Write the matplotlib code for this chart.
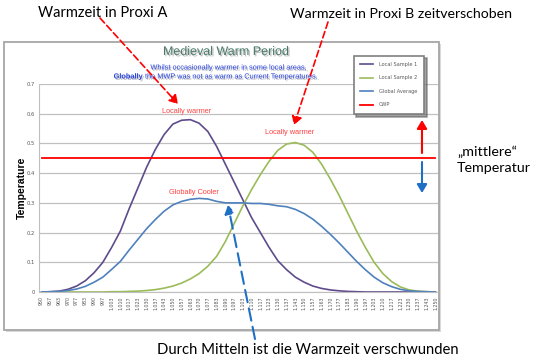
import numpy as np
import matplotlib.pyplot as plt
import matplotlib.patheffects as pe
from matplotlib.patches import Rectangle

# category labels (years) and series
years = [950, 957, 963, 970, 977, 983, 990, 997, 1003, 1010, 1017, 1023, 1030, 1037, 1043,
         1050, 1057, 1063, 1070, 1077, 1083, 1090, 1097, 1103, 1110, 1117, 1123, 1130, 1137, 1143,
         1150, 1157, 1163, 1170, 1177, 1183, 1190, 1197, 1203, 1210, 1217, 1223, 1230, 1237, 1243, 1250]
sample1 = [0.0, 0.001, 0.003, 0.009, 0.02, 0.038, 0.065, 0.10, 0.15, 0.205,
           0.28, 0.35, 0.42, 0.48, 0.53, 0.565, 0.578, 0.58, 0.568, 0.54,
           0.49, 0.43, 0.37, 0.31, 0.25, 0.20, 0.15, 0.105, 0.075, 0.05,
           0.033, 0.02, 0.012, 0.007, 0.004, 0.002, 0.001, 0, 0, 0,
           0, 0, 0, 0, 0, 0]
sample2 = [0, 0, 0, 0, 0, 0, 0, 0, 0.001, 0.001,
           0.002, 0.003, 0.005, 0.008, 0.013, 0.02, 0.03, 0.044, 0.062, 0.087,
           0.12, 0.17, 0.23, 0.29, 0.345, 0.395, 0.44, 0.477, 0.498, 0.503,
           0.494, 0.47, 0.43, 0.38, 0.325, 0.265, 0.205, 0.15, 0.10, 0.062,
           0.035, 0.017, 0.007, 0.003, 0.001, 0.0]
global_avg = [0.0, 0.001, 0.002, 0.005, 0.01, 0.019, 0.033, 0.05, 0.076, 0.103,
              0.141, 0.177, 0.213, 0.244, 0.272, 0.293, 0.305, 0.312, 0.315, 0.313,
              0.305, 0.30, 0.30, 0.30, 0.298, 0.298, 0.295, 0.29, 0.287, 0.278,
              0.264, 0.245, 0.221, 0.194, 0.165, 0.134, 0.103, 0.075, 0.05, 0.031,
              0.018, 0.009, 0.004, 0.002, 0.001, 0.0]
cwp = [0.45] * len(years)
yticks = [0, 0.1, 0.2, 0.3, 0.4, 0.5, 0.6, 0.7]

W, H = 540, 362
fig = plt.figure(figsize=(W / 100, H / 100), dpi=100)

# background layer in pixel coords (chart frame)
bg = fig.add_axes([0, 0, 1, 1], zorder=0)
bg.set_xlim(0, W)
bg.set_ylim(H, 0)
bg.axis('off')
bg.add_patch(Rectangle((6, 44), 435, 288, facecolor='#d9d9d9', edgecolor='none'))
bg.add_patch(Rectangle((4, 42), 435, 288, facecolor='white', edgecolor='#a6a6a6', lw=1.3))

# chart
ax = fig.add_axes([39 / W, 1 - 292 / H, (438 - 39) / W, (292 - 84) / H], zorder=1)
x = np.arange(len(years))
ax.plot(x, sample1, color='#5f4b8b', lw=1.2, label='Local Sample 1')
ax.plot(x, sample2, color='#9bbb59', lw=1.2, label='Local Sample 2')
ax.plot(x, global_avg, color='#4f81bd', lw=1.2, label='Global Average')
ax.plot(x, cwp, color='#ff0000', lw=1.3, label='CWP')
ax.set_xlim(-0.3, 45.3)
ax.set_ylim(0, 0.7)
ax.set_yticks(yticks)
ax.set_yticklabels([f'{v:g}' for v in yticks], fontsize=3.8, color='#595959')
ax.set_xticks(x)
ax.set_xticklabels([f'{y:,}' for y in years], rotation=90, fontsize=3.4, color='#595959')
ax.tick_params(length=0, pad=3)
ax.grid(axis='y', color='#c0c0c0', lw=0.9)
ax.set_axisbelow(True)
for s in ['top', 'right']:
    ax.spines[s].set_visible(False)
for s in ['left', 'bottom']:
    ax.spines[s].set_color('#bfbfbf')
    ax.spines[s].set_linewidth(0.8)
ax.set_ylabel('Temperature', fontsize=7.5, fontweight='bold', family='Liberation Sans', labelpad=0)

lab = dict(fontsize=5.3, color='#ff4040', ha='center', va='center', family='Liberation Sans')
ax.text(16.6, 0.607, 'Locally warmer', **lab)
ax.text(28.3, 0.536, 'Locally warmer', **lab)
ax.text(17.4, 0.334, 'Globally Cooler', **lab)

leg = fig.legend(loc='upper left', bbox_to_anchor=(351 / W, 1 - 53 / H), fontsize=3.6,
                 labelspacing=1.7, handlelength=2.6, handletextpad=1.2, borderpad=1.3,
                 fancybox=False, shadow=True, edgecolor='#7f7f7f', framealpha=1)
leg.get_frame().set_linewidth(1.2)
for t in leg.get_texts():
    t.set_color('#595959')

# overlay layer: titles, arrows, slide annotations
fg = fig.add_axes([0, 0, 1, 1], zorder=3)
fg.set_xlim(0, W)
fg.set_ylim(H, 0)
fg.axis('off')
fg.patch.set_alpha(0)

shadow = [pe.SimplePatchShadow(offset=(1, -1), shadow_rgbFace='#777777', alpha=0.5), pe.Normal()]
fg.text(226, 52, 'Medieval Warm Period', fontsize=9, color='#4a7a6a', ha='center', va='center',
        family='Liberation Sans', path_effects=shadow)
fg.text(228, 68, 'Whilst occasionally warmer in some local areas,', fontsize=5.3, color='#2a44e0',
        ha='center', va='center', family='Liberation Sans', path_effects=shadow)
fg.text(143, 77, 'Globally', fontsize=5.3, color='#2a44e0', fontweight='bold', ha='right', va='center',
        family='Liberation Sans', path_effects=shadow)
fg.text(145, 77, 'the MWP was not as warm as Current Temperatures.', fontsize=5.3, color='#2a44e0',
        ha='left', va='center', family='Liberation Sans', path_effects=shadow)

big = dict(color='black', family='Lato', va='center', ha='left')
fg.text(38, 13, 'Warmzeit in Proxi A', fontsize=10.5, **big)
fg.text(290, 14, 'Warmzeit in Proxi B zeitverschoben', fontsize=10.2, **big)
fg.text(157, 350, 'Durch Mitteln ist die Warmzeit verschwunden', fontsize=10.7, **big)
fg.text(457, 152, '\u201emittlere\u201c', fontsize=10.3, **big)
fg.text(457, 168, 'Temperatur', fontsize=10.3, **big)


def arrow(p0, p1, color, ls, lw, hw=3, hl=5):
    fg.annotate('', xy=p1, xytext=p0,
                arrowprops=dict(arrowstyle=f'-|>,head_width={hw / 10},head_length={hl / 10}',
                                color=color, lw=lw, ls=ls, shrinkA=0, shrinkB=0))


arrow((100, 18), (178, 104), '#ff0000', (0, (4, 2)), 1.2)
arrow((328, 22), (294, 125), '#ff0000', (0, (4, 2)), 1.2)
arrow((255, 339), (228, 205), '#1f6fc5', (0, (6, 3)), 1.5)
arrow((422, 153), (422, 120), '#ff0000', '-', 1.5)
arrow((422, 162), (422, 193), '#1f6fc5', '-', 1.5)

fig.savefig('out.png', dpi=100)
